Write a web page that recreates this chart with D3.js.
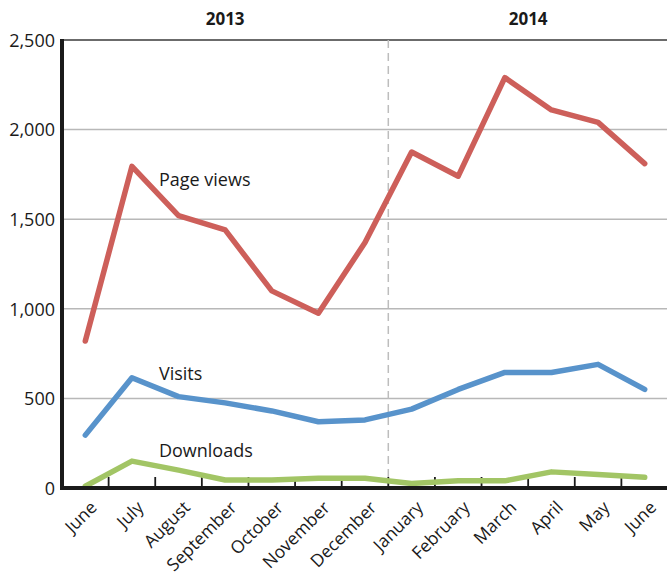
<!DOCTYPE html>
<html>
<head>
<meta charset="utf-8">
<script src="https://cdn.jsdelivr.net/npm/d3@7"></script>
<style>
  html, body { margin: 0; padding: 0; background: #fff; }
  svg { display: block; font-family: "Open Sans", "Noto Sans", sans-serif; }
</style>
</head>
<body>
<svg id="chart" width="667" height="574"></svg>
<script>
// Monthly site statistics, June 2013 – June 2014
const months = ["June", "July", "August", "September", "October", "November", "December",
                "January", "February", "March", "April", "May", "June"];
const years = ["2013", "2014"];
const yearStart = [0, 7];          // index of the first month of each year
const pageViews = [820, 1795, 1520, 1440, 1100, 975, 1370, 1875, 1740, 2290, 2110, 2040, 1810];
const visits    = [295, 615, 510, 475, 430, 370, 380, 440, 550, 645, 645, 690, 550];
const downloads = [10, 150, 100, 45, 45, 55, 55, 25, 40, 40, 90, 75, 60];
const yTicks = [0, 500, 1000, 1500, 2000, 2500];

const series = [
  { name: "Page views", values: pageViews, color: "#cd5f5a", labelIndex: 1, labelValue: 1720 },
  { name: "Visits",     values: visits,    color: "#5893cb", labelIndex: 1, labelValue: 640 },
  { name: "Downloads",  values: downloads, color: "#a2c565", labelIndex: 1, labelValue: 210 }
];

const svg = d3.select("#chart");
const mLeft = 62, mRight = 668, mTop = 40, mBottom = 488;

const x = d3.scaleBand().domain(d3.range(months.length)).range([mLeft, mRight]).padding(0);
const y = d3.scaleLinear().domain([0, 2500]).range([mBottom, mTop]);
const cx = i => x(i) + x.bandwidth() / 2;

// horizontal gridlines
svg.append("g")
  .selectAll("line")
  .data(yTicks.filter(t => t > 0 && t < 2500))
  .join("line")
  .attr("x1", mLeft).attr("x2", 667)
  .attr("y1", d => y(d)).attr("y2", d => y(d))
  .attr("stroke", "#b8b8b8").attr("stroke-width", 1.5);

// top border
svg.append("line")
  .attr("x1", mLeft).attr("x2", 667)
  .attr("y1", y(2500)).attr("y2", y(2500))
  .attr("stroke", "#3a3a3a").attr("stroke-width", 1.5);

// year divider
svg.append("line")
  .attr("x1", x(yearStart[1])).attr("x2", x(yearStart[1]))
  .attr("y1", y(2500)).attr("y2", y(0))
  .attr("stroke", "#bdbdbd").attr("stroke-width", 1.5)
  .attr("stroke-dasharray", "8,5");

// year headings
const yearEnds = [yearStart[1], months.length];
svg.append("g")
  .selectAll("text")
  .data(years)
  .join("text")
  .attr("x", (d, i) => (x(yearStart[i]) + (yearEnds[i] < months.length ? x(yearEnds[i]) : mRight)) / 2)
  .attr("y", 25)
  .attr("text-anchor", "middle")
  .attr("font-size", 17).attr("font-weight", "bold")
  .attr("fill", "#1a1a1a")
  .text(d => d);

// y tick labels
const fmt = d3.format(",");
svg.append("g")
  .selectAll("text")
  .data(yTicks)
  .join("text")
  .attr("x", 55)
  .attr("y", d => y(d))
  .attr("dy", "0.38em")
  .attr("text-anchor", "end")
  .attr("font-size", 18)
  .attr("fill", "#1a1a1a")
  .text(d => fmt(d));

// bottom tick marks between months
svg.append("g")
  .selectAll("line")
  .data(d3.range(1, months.length))
  .join("line")
  .attr("x1", d => x(d)).attr("x2", d => x(d))
  .attr("y1", mBottom).attr("y2", mBottom - 11)
  .attr("stroke", "#1a1a1a").attr("stroke-width", 1.8);

// series lines
const line = d3.line().x((d, i) => cx(i)).y(d => y(d));
svg.append("g")
  .selectAll("path")
  .data(series)
  .join("path")
  .attr("d", d => line(d.values))
  .attr("fill", "none")
  .attr("stroke", d => d.color)
  .attr("stroke-width", 5.5)
  .attr("stroke-linejoin", "round")
  .attr("stroke-linecap", "round");

// series labels
svg.append("g")
  .selectAll("text")
  .data(series)
  .join("text")
  .attr("x", d => cx(d.labelIndex) + 27)
  .attr("y", d => y(d.labelValue))
  .attr("dy", "0.35em")
  .attr("font-size", 18)
  .attr("fill", "#1a1a1a")
  .text(d => d.name);

// axes
svg.append("line")
  .attr("x1", mLeft).attr("x2", mLeft)
  .attr("y1", mTop - 1).attr("y2", mBottom + 2)
  .attr("stroke", "#1a1a1a").attr("stroke-width", 4);
svg.append("line")
  .attr("x1", mLeft - 2).attr("x2", 667)
  .attr("y1", mBottom).attr("y2", mBottom)
  .attr("stroke", "#1a1a1a").attr("stroke-width", 4);

// month labels, rotated
svg.append("g")
  .selectAll("text")
  .data(months)
  .join("text")
  .attr("transform", (d, i) => `translate(${cx(i) + 4},${mBottom + 12}) rotate(-45)`)
  .attr("dy", "0.7em")
  .attr("text-anchor", "end")
  .attr("font-size", 17.5)
  .attr("fill", "#1a1a1a")
  .text(d => d);
</script>
</body>
</html>
